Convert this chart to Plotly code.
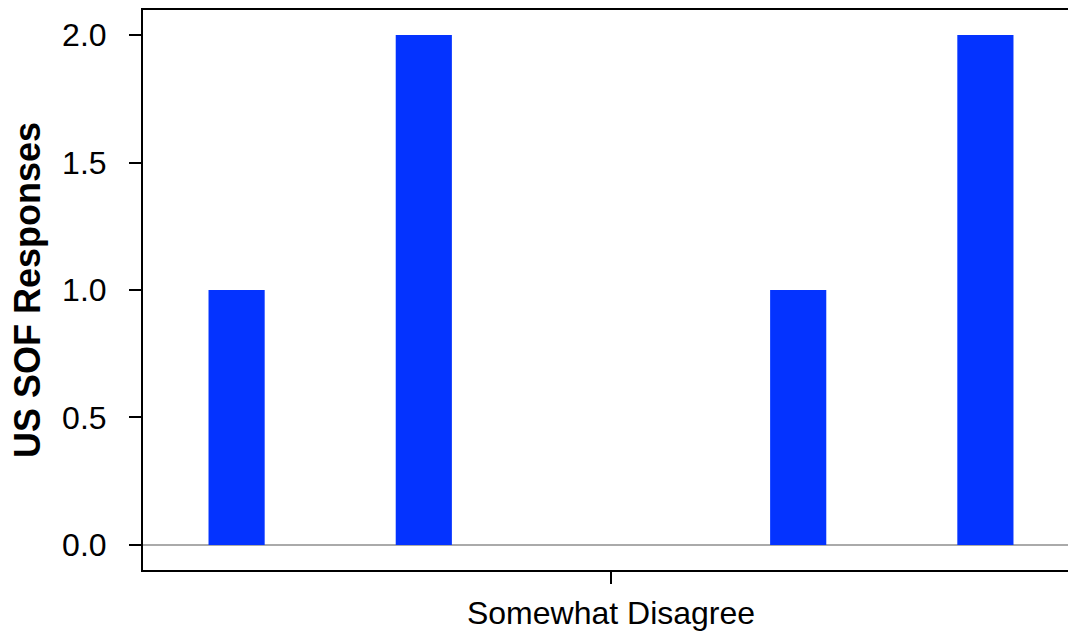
import plotly.graph_objects as go

categories = ["Somewhat Disagree"]
series_names = ["Series 1", "Series 2", "Series 3", "Series 4", "Series 5"]
series_values = [1, 2, 0, 1, 2]
y_ticks = [0.0, 0.5, 1.0, 1.5, 2.0]
y_ticklabels = ["0.0", "0.5", "1.0", "1.5", "2.0"]
y_title = "US SOF Responses"

fig = go.Figure()
for name, v in zip(series_names, series_values):
    fig.add_trace(go.Bar(
        x=categories, y=[v], name=name,
        marker=dict(color="#0433FF", line=dict(width=0)),
        showlegend=False,
    ))

font = "Liberation Sans, Arial, sans-serif"
fig.update_layout(
    width=1068, height=635,
    margin=dict(l=143, r=0, t=10, b=65),
    paper_bgcolor="white", plot_bgcolor="white",
    barmode="group", bargap=0.0, bargroupgap=0.7,
    font=dict(family=font, size=32, color="black"),
    xaxis=dict(
        range=[-0.5, -0.5 + 925 / 936],
        showline=True, linecolor="black", linewidth=2, mirror=True,
        ticks="outside", ticklen=12, tickwidth=1.5, tickcolor="black",
        showgrid=False, zeroline=False,
        tickfont=dict(size=32, family=font),
        ticklabelstandoff=2,
        automargin=False,
    ),
    yaxis=dict(
        range=[-0.0985, 2.0985],
        tickvals=y_ticks, ticktext=y_ticklabels,
        showline=True, linecolor="black", linewidth=2,
        ticks="outside", ticklen=12, tickwidth=1.5, tickcolor="black",
        showgrid=False, zeroline=True, zerolinecolor="#AAAAAA", zerolinewidth=1.5,
        tickfont=dict(size=32, family=font),
        ticklabelstandoff=16,
        automargin=False,
    ),
    annotations=[dict(
        text="<b>" + y_title + "</b>", textangle=-90,
        xref="paper", yref="paper", x=0, y=0.5,
        xanchor="center", yanchor="middle", xshift=-116,
        showarrow=False, font=dict(size=36, family=font, color="black"),
    )],
)

fig.write_html(
    "out.html",
    config={"displayModeBar": False},
    post_script="document.body.style.margin='0';document.body.style.overflow='hidden';",
)
